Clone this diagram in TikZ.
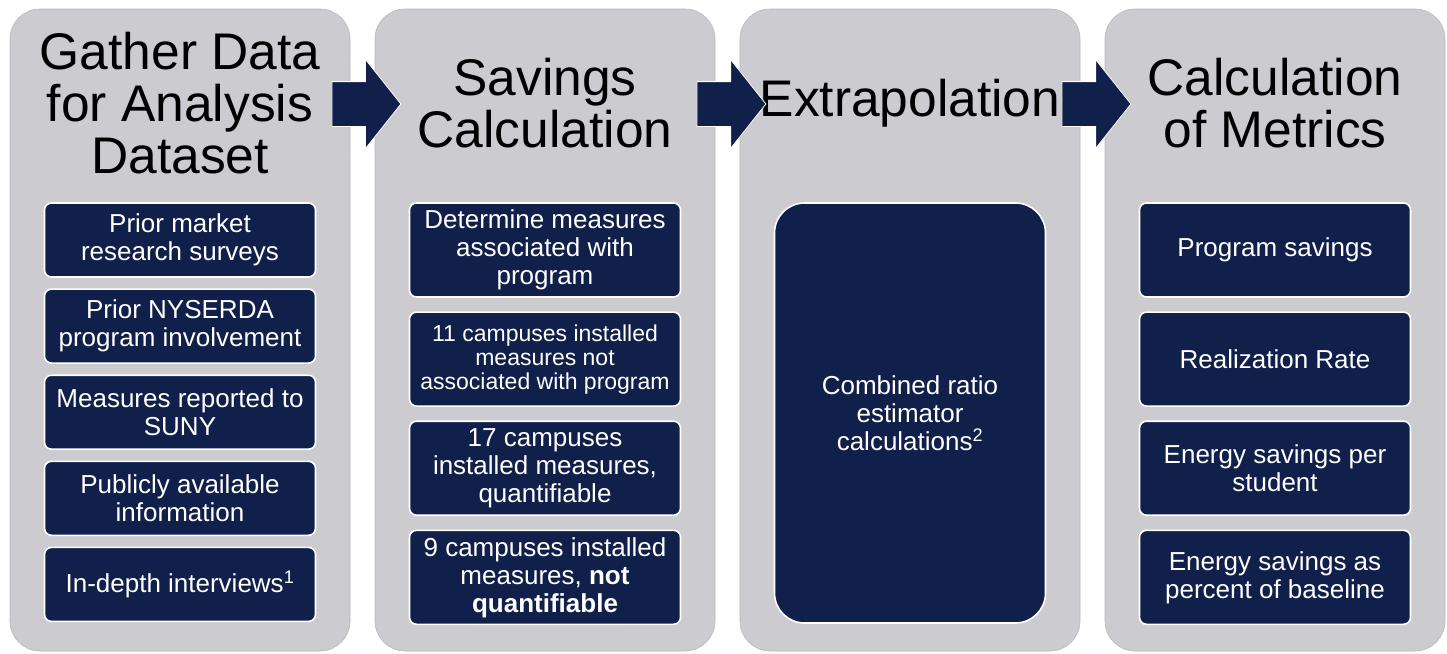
\documentclass[tikz,border=0pt]{standalone}
\usepackage{fontspec}
\setmainfont{Liberation Sans}
\usetikzlibrary{shapes.arrows, positioning}

\definecolor{panelgray}{RGB}{203,203,208}
\definecolor{navy}{RGB}{17,32,74}

\begin{document}
\begin{tikzpicture}[
    x=1pt, y=-1pt,
    panel/.style={draw=gray!55, line width=0.6pt, fill=panelgray, rounded corners=30pt,
        minimum width=340pt, minimum height=642pt},
    heading/.style={align=center, font=\fontsize{51.5}{52}\selectfont},
    taskbox/.style={draw=white, line width=1.6pt, fill=navy, text=white, rounded corners=7pt,
        align=center, minimum width=271pt, inner sep=2pt, font=\fontsize{26}{28}\selectfont},
    stepflow/.style={single arrow, draw=white, line width=0.8pt, fill=navy,
        inner xsep=0pt, inner ysep=22pt, single arrow head extend=22pt,
        single arrow tip angle=103, minimum height=69pt}
]
    \useasboundingbox (0,0) rectangle (1447,653);

    % Four stage panels
    \node[panel] (gather) at (180,330) {};
    \node[panel] (savings) at (545,330) {};
    \node[panel] (extrap) at (910,330) {};
    \node[panel] (metrics) at (1275,330) {};

    % Stage headings
    \node[heading] (gatherhead) at (180,103) {Gather Data\\for Analysis\\Dataset};
    \node[heading] (savingshead) at (545,103) {Savings\\Calculation};
    \node[heading] (extraphead) at (910,103) {Extrapolation};
    \node[heading] (metricshead) at (1275,103) {Calculation\\of Metrics};

    % Arrows between the stages
    \node[stepflow] (flowA) at (357.5,104) {};
    \node[stepflow] (flowB) at (722.5,104) {};
    \node[stepflow] (flowC) at (1087.5,104) {};

    % Data sources
    \node[taskbox, minimum height=74pt] (surveys) at (180,240) {Prior market\\research surveys};
    \node[taskbox, minimum height=74pt, below=10.5pt of surveys] (involve) {Prior NYSERDA\\program involvement};
    \node[taskbox, minimum height=74pt, below=10.5pt of involve] (reported) {Measures reported to\\SUNY};
    \node[taskbox, minimum height=74pt, below=10.5pt of reported] (public) {Publicly available\\information};
    \node[taskbox, minimum height=74pt, below=10.5pt of public] (interviews) {In-depth interviews\textsuperscript{1}};

    % Savings steps
    \node[taskbox, minimum height=94pt] (determine) at (545,250) {Determine measures\\associated with\\program};
    \node[taskbox, minimum height=94pt, below=13.5pt of determine, font=\fontsize{23}{24}\selectfont] (notassoc) {11 campuses installed\\measures not\\associated with program};
    \node[taskbox, minimum height=94pt, below=13.5pt of notassoc] (quant) {17 campuses\\installed measures,\\quantifiable};
    \node[taskbox, minimum height=94pt, below=13.5pt of quant] (notquant) {9 campuses installed\\measures, \textbf{not}\\\textbf{quantifiable}};

    % Extrapolation
    \node[taskbox, minimum height=420pt, rounded corners=30pt] (ratio) at (910,413) {Combined ratio\\estimator\\calculations\textsuperscript{2}};

    % Metrics
    \node[taskbox, minimum height=94pt] (progsave) at (1275,250) {Program savings};
    \node[taskbox, minimum height=94pt, below=13.5pt of progsave] (realize) {Realization Rate};
    \node[taskbox, minimum height=94pt, below=13.5pt of realize] (perstudent) {Energy savings per\\student};
    \node[taskbox, minimum height=94pt, below=13.5pt of perstudent] (baseline) {Energy savings as\\percent of baseline};
\end{tikzpicture}
\end{document}
